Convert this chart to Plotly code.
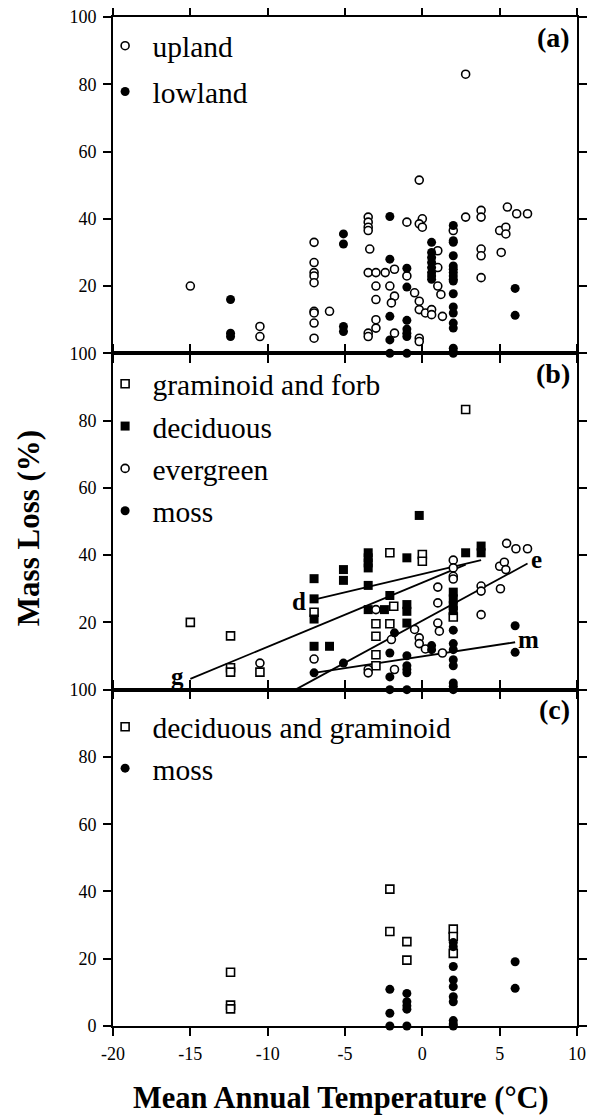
import plotly.graph_objects as go

# ---------------- Panel (a) ----------------
upland_x = [-15, -10.5, -10.5, -7, -7, -7, -7, -7, -7, -7, -7, -7, -6,
            -3.5, -3.5, -3.5, -3.5, -3.4, -3.5, -3, -2.4, -1.8,
            -3, -3, -3, -3, -3.5, -3.5, -2.1, -1.8, -2, -1.8,
            -1, -1, -0.2, 0, -0.2, 0, -0.5, -0.2, -0.2, 0.2, 0.6, 0.6, 1.3,
            -0.2, -0.2, 1, 1, 1, 1.2, 2, 2.8, 2.8, 3.8, 3.8, 3.8, 3.8, 3.8,
            5, 5.1, 5.4, 5.4, 5.5, 6.1, 6.8]
upland_y = [20, 8, 5, 33, 27, 24, 23, 21, 12.5, 12, 9, 4.5, 12.5,
            40.5, 39, 37.5, 36.5, 31, 24, 24, 24, 25,
            20, 16, 10, 7.5, 6, 5, 20, 17, 15, 6,
            39, 23, 51.5, 40, 38.5, 37.5, 18, 15.5, 13, 12, 13, 11.5, 11,
            4.5, 3.5, 30.5, 25.5, 20, 17.5, 36.5, 83, 40.5, 42.5, 40.5, 31, 29, 22.5,
            36.5, 30, 37.5, 35.5, 43.5, 41.5, 41.5]
lowland_x = [-12.4, -12.4, -12.4, -5.1, -5.1, -5.1, -5.1,
             -2.1, -2.1, -2.1, -2.1, -2.1, -1, -1, -1, -1, -1, -1, -1,
             0.6, 0.6, 0.6, 0.6, 0.6, 0.6, 0.6, 0.6,
             2, 2, 2, 2, 2, 2, 2, 2, 2, 2, 2, 2, 2, 2, 2, 2, 2, 2, 6, 6]
lowland_y = [16, 6, 5, 35.5, 32.5, 8, 6.5,
             40.7, 28, 11, 4, 0, 25.3, 19.7, 9.8, 7.2, 6, 5, 0,
             33, 30, 28.5, 27, 25.5, 24, 23, 22,
             38, 33.5, 33, 29, 26, 25, 24, 23, 22, 21.5, 17.7, 13.8, 12, 9, 7.5, 1.5, 0.5, 0,
             19.3, 11.3]

# ---------------- Panel (b) ----------------
gram_x = [-15, -12.4, -12.4, -12.4, -10.5, -7, -3, -3, -3, -3, -2.1, -1.85, -2.1, 0, 0, 2.8, 2]
gram_y = [20, 16, 6.5, 5.2, 5.2, 23, 19.6, 15.9, 10.4, 7.1, 40.7, 24.8, 19.6, 40.2, 38.2, 83.3, 21.6]
decid_x = [-7, -7, -7, -7, -6, -5.1, -5.1, -3.5, -3.5, -3.5, -3.5, -3.5, -3.5, -2.45, -2.1,
           -1, -1, -1, -1, -0.2, 2, 2, 2, 2, 2.8, 3.8, 3.8]
decid_y = [33, 27, 21, 12.9, 12.9, 35.7, 32.5, 40.7, 39.2, 37.7, 36.2, 31, 23.8, 23.8, 28,
           39.2, 25.3, 23.3, 19.8, 51.8, 29, 27, 25, 23.5, 40.7, 42.7, 40.7]
everg_x = [-10.5, -7, -3.5, -3.5, -3, -2, -1.8, -0.5, -0.2, -0.2, 0.2, 1.3, 1, 1, 1, 1.1,
           2, 2, 2, 2, 3.8, 3.8, 3.8, 5, 5.05, 5.3, 5.4, 5.45, 6.05, 6.8]
everg_y = [7.9, 9.1, 6, 5, 23.8, 14.9, 6, 17.9, 15.4, 13.7, 12.1, 10.9, 30.5, 25.8, 19.8, 17.4,
           38.5, 36.2, 33.7, 32.9, 30.8, 29.3, 22.3, 36.7, 30, 37.9, 35.7, 43.5, 41.9, 41.9]
mossb_x = [-7, -5.1, -2.1, -2.1, -2.1, -1.8, -1, -1, -1, -1, -1, 0.6, 0.6,
           2, 2, 2, 2, 2, 2, 2, 2, 6, 6]
mossb_y = [5, 7.9, 10.9, 3.8, 0, 16.9, 10.1, 7.1, 6, 5, 0, 13.1, 11.9,
           17.7, 13.7, 11.9, 8.9, 7.1, 2, 1, 0, 19, 11.1]

# regression lines (end points)
fit_d_x = [-7, 3.8]
fit_d_y = [26.8, 38.5]
fit_g_x = [-15, 2.8]
fit_g_y = [3.2, 37.2]
fit_e_x = [-8.2, 6.8]
fit_e_y = [0, 37.5]
fit_m_x = [-7, 6]
fit_m_y = [5, 14.1]
fit_labels = ["d", "g", "e", "m"]
fit_label_x = [-8.0, -15.8, 7.4, 6.85]
fit_label_y = [26.3, 3.8, 38.7, 14.9]

# ---------------- Panel (c) ----------------
dg_x = [-12.4, -12.4, -12.4, -2.1, -2.1, -1, -1, 2, 2, 2]
dg_y = [16, 6.2, 5.1, 40.7, 28.1, 25.1, 19.6, 28.8, 26.6, 21.6]
mossc_x = [-2.1, -2.1, -2.1, -1, -1, -1, -1, -1, 2, 2, 2, 2, 2, 2, 2, 2, 2, 2, 6, 6]
mossc_y = [10.9, 3.8, 0, 9.7, 7.2, 6, 5, 0, 24.8, 23.6, 17.7, 13.7, 11.7, 8.7, 7.2, 1.6, 0.6, 0,
           19.1, 11.2]

x_ticks = [-20, -15, -10, -5, 0, 5, 10]
x_tick_text = ["-20", "-15", "-10", "-5", "0", "5", "10"]
y_ticks_full = [0, 20, 40, 60, 80, 100]
y_ticks_upper = [20, 40, 60, 80, 100]
panel_letters = ["(a)", "(b)", "(c)"]

SERIF = "Liberation Serif"
MS = 8
NB = "\u00a0"

def open_marker(sym):
    return dict(symbol=sym, size=MS, color="white", line=dict(color="black", width=1.6))

def solid_marker(sym):
    return dict(symbol=sym, size=MS + 1, color="black", line=dict(color="black", width=0))

fig = go.Figure()

def add_pts(x, y, name, marker, xa, ya, legend, grp):
    fig.add_trace(go.Scatter(x=x, y=y, mode="markers", name=NB + name, marker=marker,
                             xaxis=xa, yaxis=ya, legend=legend, legendgroup=grp,
                             cliponaxis=False, showlegend=True))

add_pts(upland_x, upland_y, "upland", open_marker("circle"), "x", "y", "legend", "a1")
add_pts(lowland_x, lowland_y, "lowland", solid_marker("circle"), "x", "y", "legend", "a2")

for lx, ly in [(fit_d_x, fit_d_y), (fit_g_x, fit_g_y), (fit_e_x, fit_e_y), (fit_m_x, fit_m_y)]:
    fig.add_trace(go.Scatter(x=lx, y=ly, mode="lines", line=dict(color="black", width=1.8),
                             xaxis="x2", yaxis="y2", showlegend=False, cliponaxis=False))

add_pts(gram_x, gram_y, "graminoid and forb", open_marker("square"), "x2", "y2", "legend2", "b1")
add_pts(decid_x, decid_y, "deciduous", solid_marker("square"), "x2", "y2", "legend2", "b2")
add_pts(everg_x, everg_y, "evergreen", open_marker("circle"), "x2", "y2", "legend2", "b3")
add_pts(mossb_x, mossb_y, "moss", solid_marker("circle"), "x2", "y2", "legend2", "b4")

add_pts(dg_x, dg_y, "deciduous and graminoid", open_marker("square"), "x3", "y3", "legend3", "c1")
add_pts(mossc_x, mossc_y, "moss", solid_marker("circle"), "x3", "y3", "legend3", "c2")

tickfont = dict(family=SERIF, size=18, color="black")

def xaxis(anchor, show_labels):
    return dict(domain=[0, 1], range=[-20, 10], anchor=anchor, tickvals=x_ticks,
                ticktext=x_tick_text,
                showticklabels=show_labels, ticks="outside", ticklen=8, tickwidth=1.5,
                tickcolor="black", showline=True, linecolor="black", linewidth=1.6,
                mirror="ticks", showgrid=False, zeroline=False, tickfont=tickfont,
                ticklabelstandoff=3, ticklabeloverflow="allow")

def yaxis(anchor, domain, ticks):
    return dict(domain=domain, range=[0, 100], anchor=anchor, tickvals=ticks,
                ticks="outside", ticklen=8, tickwidth=1.5, tickcolor="black",
                showline=True, linecolor="black", linewidth=1.6, mirror="ticks",
                showgrid=False, zeroline=False, tickfont=tickfont, ticklabelstandoff=3,
                ticklabeloverflow="allow")

legend_common = dict(font=dict(family=SERIF, size=29.5, color="black"), bgcolor="rgba(0,0,0,0)",
                     xanchor="left", yanchor="top", itemclick=False, x=-0.017)

annotations = []
for i, (xr, yr) in enumerate([("x domain", "y domain"), ("x2 domain", "y2 domain"),
                              ("x3 domain", "y3 domain")]):
    annotations.append(dict(text="<b>" + panel_letters[i] + "</b>", xref=xr, yref=yr,
                            x=0.99, y=0.94, xanchor="right", yanchor="middle", showarrow=False,
                            font=dict(family=SERIF, size=28, color="black")))
for t, lx, ly in zip(fit_labels, fit_label_x, fit_label_y):
    annotations.append(dict(text="<b>" + t + "</b>", xref="x2", yref="y2", x=lx, y=ly,
                            showarrow=False, font=dict(family=SERIF, size=25, color="black")))
annotations.append(dict(text="<b>Mass Loss (%)</b>", xref="paper", yref="paper",
                        x=-0.183, y=0.4935, textangle=-90, showarrow=False, xanchor="center",
                        yanchor="middle", font=dict(family=SERIF, size=31, color="black")))
annotations.append(dict(text="<b>Mean Annual Temperature (°C)</b>", xref="paper", yref="paper",
                        x=0.491, y=-0.071, showarrow=False, xanchor="center", yanchor="middle",
                        font=dict(family=SERIF, size=30.5, color="black")))

# page body adds an 8 px margin, so the figure is sized to fit inside the 604x1116 window
fig.update_layout(
    width=596, height=1108,
    margin=dict(l=105, r=27, t=9, b=90, autoexpand=False),
    paper_bgcolor="white", plot_bgcolor="white",
    xaxis=xaxis("y", False),
    xaxis2=xaxis("y2", False),
    xaxis3=xaxis("y3", True),
    yaxis=yaxis("x", [2 / 3, 1], y_ticks_upper),
    yaxis2=yaxis("x2", [1 / 3, 2 / 3], y_ticks_upper),
    yaxis3=yaxis("x3", [0, 1 / 3], y_ticks_full),
    legend=dict(y=0.997, tracegroupgap=4.5, **legend_common),
    legend2=dict(y=0.662, tracegroupgap=1, **legend_common),
    legend3=dict(y=0.322, tracegroupgap=0, **legend_common),
    annotations=annotations,
    showlegend=True,
)

fig.write_html("out.html")
